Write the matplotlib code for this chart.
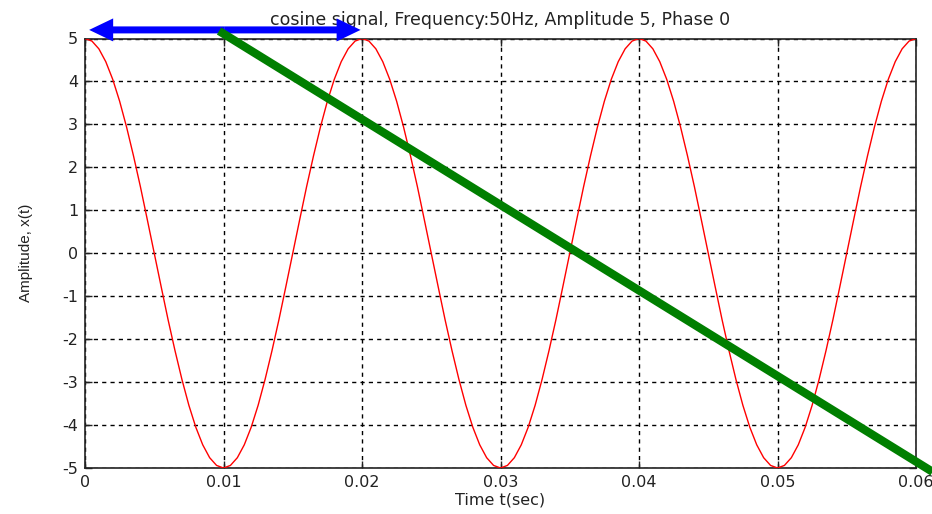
import numpy as np
import matplotlib
matplotlib.use("Agg")
import matplotlib.pyplot as plt

# ---- data ----
title_text = "cosine signal, Frequency:50Hz, Amplitude 5, Phase 0"
period_values = [5.00, 4.94, 4.76, 4.46, 4.05, 3.54, 2.94, 2.27, 1.55, 0.78,
                 0.00, -0.78, -1.55, -2.27, -2.94, -3.54, -4.05, -4.46, -4.76, -4.94,
                 -5.00, -4.94, -4.76, -4.46, -4.05, -3.54, -2.94, -2.27, -1.55, -0.78,
                 0.00, 0.78, 1.55, 2.27, 2.94, 3.54, 4.05, 4.46, 4.76, 4.94]
signal_values = period_values * 3 + [5.00]
time_values = np.linspace(0.0, 0.06, len(signal_values))
x_ticks = [0, 0.01, 0.02, 0.03, 0.04, 0.05, 0.06]
x_tick_labels = ["0", "0.01", "0.02", "0.03", "0.04", "0.05", "0.06"]
y_ticks = [-5, -4, -3, -2, -1, 0, 1, 2, 3, 4, 5]
green_x = [0.00968, 0.0612]
green_y = [5.175, -5.09]
arrow_x = [0.0003, 0.0199]
arrow_y = 5.2

plt.rcParams['font.family'] = ['DejaVu Sans']
plt.rcParams['axes.unicode_minus'] = False

fig = plt.figure(figsize=(9.32, 5.14), dpi=100)
ax = fig.add_axes([85/932, 1 - 468/514, (916-85)/932, (468-38.5)/514])

ax.plot(time_values, signal_values, color='#ff0000', lw=1.0, zorder=3)

ax.set_xlim(0, 0.06)
ax.set_ylim(-5, 5)
ax.set_xticks(x_ticks)
ax.set_xticklabels(x_tick_labels)
ax.set_yticks(y_ticks)
ax.tick_params(direction='in', length=5, width=1, top=True, right=True,
               labelsize=11.5, colors='#222222', pad=5)
ax.grid(True, color='black', linestyle=(0, (3, 3)), linewidth=1.0)
for s in ax.spines.values():
    s.set_linewidth(1.2)
    s.set_color('#222222')

ax.set_xlabel("Time t(sec)", fontsize=11.5, labelpad=2, color='#222222')
ax.set_ylabel("Amplitude, x(t)", fontsize=11, labelpad=21, color='#222222',
              family='Liberation Sans')
ax.set_title(title_text, fontsize=12.5, pad=10, color='#222222')

# blue double-headed arrow
mid = (arrow_x[0] + arrow_x[1]) / 2
hw = 23 / 42.95
hl = 24 / 13850
sw = 7 / 42.95
for end in arrow_x:
    ax.arrow(mid, arrow_y, end - mid, 0, width=sw, head_width=hw, head_length=hl,
             length_includes_head=True, color='#0000ff', clip_on=False, zorder=5, lw=0)

ax.plot(green_x, green_y, color='#007f00', lw=6, clip_on=False,
        solid_capstyle='butt', zorder=6)

fig.savefig("out.png", dpi=100)
